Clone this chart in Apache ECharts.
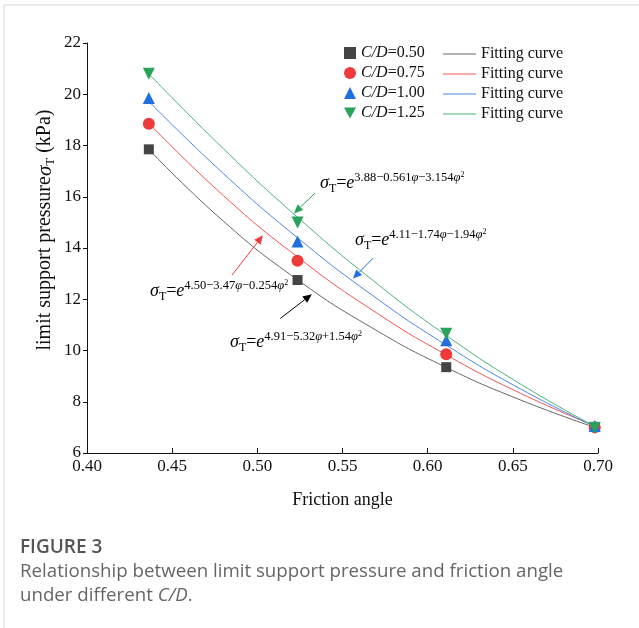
<!DOCTYPE html>
<html>
<head>
<meta charset="utf-8">
<script src="https://cdn.jsdelivr.net/npm/echarts@6/dist/echarts.min.js"></script>
<style>
  html, body { margin: 0; padding: 0; background: #fff; }
  #chart { width: 639px; height: 628px; }
</style>
</head>
<body>
<div id="chart"></div>
<script>
// friction angle (rad) of the measured points
const angles = [0.4363, 0.5236, 0.6109, 0.6981];
const groups = ['0.50', '0.75', '1.00', '1.25'];

// measured limit support pressure (kPa)
const p050 = [17.85, 12.75, 9.35, 7.02];
const p075 = [18.85, 13.5, 9.85, 7.0];
const p100 = [19.85, 14.25, 10.4, 7.05];
const p125 = [20.8, 15.0, 10.65, 6.98];

// fitting curves
const curveAngles = [0.4363, 0.48, 0.5236, 0.5672, 0.6109, 0.6545, 0.6981];
const fit050 = [17.85, 15.05, 12.76, 10.89, 9.34, 8.07, 7.0];
const fit075 = [18.87, 16.05, 13.65, 11.59, 9.83, 8.33, 7.06];
const fit100 = [19.72, 16.91, 14.4, 12.17, 10.21, 8.5, 7.03];
const fit125 = [20.8, 17.88, 15.2, 12.77, 10.59, 8.69, 7.04];

const xTicks = [0.40, 0.45, 0.50, 0.55, 0.60, 0.65, 0.70];
const yTicks = [6, 8, 10, 12, 14, 16, 18, 20, 22];

const markerColors = ['#444444', '#ee3a3a', '#1f6fe0', '#2aa35a'];
const lineColors = ['#666666', '#f25555', '#4a86e8', '#4cb07a'];
const symbols = ['rect', 'circle', 'triangle', 'path://M0,0 L10,0 L5,9 Z'];

const pointsAll = [p050, p075, p100, p125];
const fitsAll = [fit050, fit075, fit100, fit125];

const serif = 'Liberation Serif';
const tickRich = { a: { fontFamily: serif, fontSize: 17, fill: '#111' } };

const chart = echarts.init(document.getElementById('chart'));

const series = [];
fitsAll.forEach((fit, i) => {
  series.push({
    name: 'Fitting curve ' + i,
    type: 'line',
    smooth: true,
    symbol: 'none',
    z: 2,
    lineStyle: { width: 1, color: lineColors[i] },
    itemStyle: { color: lineColors[i] },
    data: curveAngles.map((a, k) => [a, fit[k]]),
  });
});
pointsAll.forEach((pts, i) => {
  series.push({
    name: 'C/D=' + groups[i],
    type: 'scatter',
    symbol: symbols[i],
    symbolSize: i === 0 ? 10 : 12,
    z: 5,
    itemStyle: { color: markerColors[i], opacity: 1 },
    data: angles.map((a, k) => [a, pts[k]]),
  });
});

chart.setOption({
  animation: false,
  textStyle: { fontFamily: serif },
  grid: { left: 87, top: 43, width: 511, height: 410 },
  legend: [
    {
      data: groups.map((g, i) => ({ name: 'C/D=' + g, icon: symbols[i] })),
      orient: 'vertical',
      left: 339,
      top: 40,
      itemWidth: 12,
      itemHeight: 12,
      itemGap: 4,
      itemTextGap: 16,
      selectedMode: false,
      formatter: (name) => '{i|C/D}{n|' + name.slice(3) + '}',
      textStyle: {
        fontFamily: serif, fontSize: 16, color: '#111',
        rich: {
          i: { fontFamily: serif, fontSize: 16, fontStyle: 'italic', color: '#111' },
          n: { fontFamily: serif, fontSize: 16, color: '#111' },
        },
      },
    },
    {
      data: groups.map((g, i) => ({
        name: 'Fitting curve ' + i, icon: 'rect', itemStyle: { color: lineColors[i] },
      })),
      orient: 'vertical',
      left: 438,
      top: 41,
      itemWidth: 33,
      itemHeight: 1,
      itemGap: 4,
      itemTextGap: 7,
      selectedMode: false,
      formatter: (name) => '{n|Fitting curve}',
      textStyle: {
        fontFamily: serif, fontSize: 16, color: '#111',
        rich: { n: { fontFamily: serif, fontSize: 16, color: '#111', lineHeight: 16, height: 16 } },
      },
    },
  ],
  xAxis: {
    type: 'value',
    min: 0.4,
    max: 0.7,
    interval: 0.05,
    name: 'Friction angle',
    nameLocation: 'middle',
    nameGap: 38,
    nameTextStyle: { fontFamily: serif, fontSize: 18, color: '#111' },
    axisLine: { lineStyle: { color: '#111', width: 1 } },
    axisTick: { inside: true, length: 5, lineStyle: { color: '#111' } },
    axisLabel: { show: false },
    splitLine: { show: false },
  },
  yAxis: {
    type: 'value',
    min: 6,
    max: 22,
    interval: 2,
    axisLine: { lineStyle: { color: '#111', width: 1 } },
    axisTick: { inside: false, length: 4, lineStyle: { color: '#111' } },
    axisLabel: { show: false },
    splitLine: { show: false },
  },
  series: series,
});

const graphics = [];

// tick labels placed at the axis positions
xTicks.forEach((v) => {
  const p = chart.convertToPixel({ gridIndex: 0 }, [v, 6]);
  graphics.push({
    type: 'text', x: p[0], y: p[1] + 5,
    style: { text: '{a|' + v.toFixed(2) + '}', rich: tickRich, align: 'center', verticalAlign: 'top' },
  });
});
yTicks.forEach((v) => {
  const p = chart.convertToPixel({ gridIndex: 0 }, [0.4, v]);
  graphics.push({
    type: 'text', x: p[0] - 6, y: p[1],
    style: { text: '{a|' + v + '}', rich: tickRich, align: 'right', verticalAlign: 'middle' },
  });
});

// equation labels
const eqRich = {
  s: { fontFamily: serif, fontSize: 18, fontStyle: 'italic', color: '#111', lineHeight: 24 },
  b: { fontFamily: serif, fontSize: 12, color: '#111', verticalAlign: 'bottom', lineHeight: 24 },
  n: { fontFamily: serif, fontSize: 18, color: '#111', lineHeight: 24 },
  p: { fontFamily: serif, fontSize: 12.5, color: '#111', verticalAlign: 'top', lineHeight: 24 },
  q: { fontFamily: serif, fontSize: 12.5, fontStyle: 'italic', color: '#111', verticalAlign: 'top', lineHeight: 24 },
  r: { fontFamily: serif, fontSize: 8, color: '#111', verticalAlign: 'top', lineHeight: 24 },
};
function eq(a, b, c) {
  return '{s|σ}{b|T}{n|=}{s|e}{p|' + a + b + '}{q|φ}{p|' + c + '}{q|φ}{r|2}';
}
const equations = [
  { text: eq('4.91', '−5.32', '+1.54'), x: 230, y: 344, tip: [0.532, 12.2], tail: [0.5135, 11.25] },
  { text: eq('4.50', '−3.47', '−0.254'), x: 150, y: 293, tip: [0.5033, 14.5], tail: [0.4851, 12.94] },
  { text: eq('4.11', '−1.74', '−1.94'), x: 355, y: 242, tip: [0.5561, 12.8], tail: [0.5679, 13.6] },
  { text: eq('3.88', '−0.561', '−3.154'), x: 320, y: 185, tip: [0.5215, 15.35], tail: [0.5338, 16.14] },
];

equations.forEach((e, i) => {
  graphics.push({
    type: 'text', left: e.x, top: e.y - 14,
    style: { text: e.text, rich: eqRich, fontFamily: serif, fontSize: 18 },
  });
  const tip = chart.convertToPixel({ gridIndex: 0 }, e.tip);
  const tail = chart.convertToPixel({ gridIndex: 0 }, e.tail);
  const ang = Math.atan2(tip[1] - tail[1], tip[0] - tail[0]);
  const L = 9, W = 4;
  const bx = tip[0] - L * Math.cos(ang), by = tip[1] - L * Math.sin(ang);
  const col = i === 0 ? '#000' : markerColors[i];
  graphics.push({
    type: 'line', z: 10,
    shape: { x1: tail[0], y1: tail[1], x2: bx, y2: by },
    style: { stroke: col, lineWidth: 1 },
  });
  graphics.push({
    type: 'polygon', z: 10,
    shape: {
      points: [
        tip,
        [bx + W * Math.sin(ang), by - W * Math.cos(ang)],
        [bx - W * Math.sin(ang), by + W * Math.cos(ang)],
      ],
    },
    style: { fill: col },
  });
});

// y axis title
graphics.push({
  type: 'text', x: 45, y: 230, rotation: Math.PI / 2, z: 10,
  style: {
    text: '{t|limit support pressure}{s|σ}{b|T}{t| (kPa)}',
    align: 'center', verticalAlign: 'middle',
    rich: {
      t: { fontFamily: serif, fontSize: 20, fill: '#111', lineHeight: 24 },
      s: { fontFamily: serif, fontSize: 21, fontStyle: 'italic', fill: '#111', lineHeight: 24 },
      b: { fontFamily: serif, fontSize: 13, fill: '#111', verticalAlign: 'bottom', lineHeight: 24 },
    },
  },
});

// figure frame and caption
graphics.push({ type: 'line', shape: { x1: 4, y1: 5, x2: 639, y2: 5 }, style: { stroke: '#d8d8d8', lineWidth: 1 } });
graphics.push({ type: 'line', shape: { x1: 4, y1: 5, x2: 4, y2: 628 }, style: { stroke: '#d8d8d8', lineWidth: 1 } });
const sans = 'Open Sans';
graphics.push({
  type: 'text', left: 20, top: 538,
  style: { text: 'FIGURE 3', fontFamily: sans, fontSize: 19, fontWeight: 600, fill: '#555' },
});
graphics.push({
  type: 'text', left: 20, top: 560,
  style: {
    text: '{n|Relationship between limit support pressure and friction angle}\n{n|under different }{i|C/D}{n|.}',
    fontFamily: sans, fontSize: 18.7, fill: '#666', lineHeight: 24,
    rich: {
      n: { fontFamily: sans, fontSize: 18.7, fill: '#666', lineHeight: 24 },
      i: { fontFamily: sans, fontSize: 18.7, fontStyle: 'italic', fill: '#666', lineHeight: 24 },
    },
  },
});

chart.setOption({ graphic: graphics });
</script>
</body>
</html>
